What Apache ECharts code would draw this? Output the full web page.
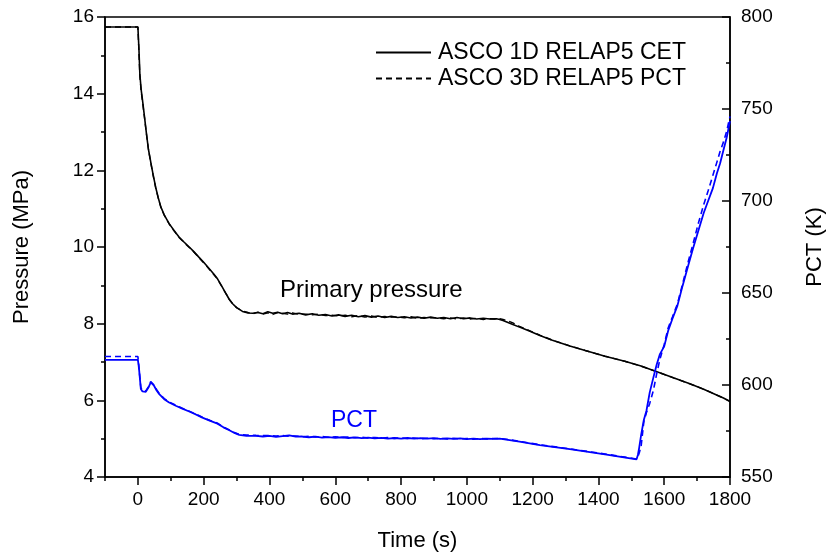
<!DOCTYPE html>
<html><head><meta charset="utf-8">
<script src="https://cdn.jsdelivr.net/npm/echarts@6/dist/echarts.min.js"></script>
<style>html,body{margin:0;padding:0;background:#fff}#c{width:827px;height:557px}</style>
</head><body><div id="c"></div>
<script>
// ---- Data ----
const legendNames = ['ASCO 1D RELAP5 CET', 'ASCO 3D RELAP5 PCT'];
const annotationTexts = ['Primary pressure', 'PCT'];

// Time (s) for pressure curves
const timeP = [
  -100,0,3,6,10,14,20,26,32,39,
  46,54,62,70,80,95,110,125,140,156,
  170,186,200,217,230,242,255,268,278,288,
  300,318,335,350,365,380,395,410,425,440,
  455,470,490,510,530,550,570,590,610,630,
  650,670,690,710,730,750,770,790,810,830,
  850,870,890,910,930,950,970,990,1010,1030,
  1050,1070,1090,1100,1110,1125,1140,1160,1190,1222,
  1260,1313,1360,1420,1480,1527,1580,1630,1678,1720,
  1749,1780,1800
];
// Primary pressure (MPa), 1D (solid)
const pressure1D = [
  15.74,15.74,15.2,14.5,14.1,13.83,13.4,12.96,12.55,12.22,
  11.9,11.56,11.28,11.04,10.84,10.61,10.43,10.26,10.13,10.0,
  9.88,9.73,9.6,9.43,9.3,9.17,8.98,8.78,8.63,8.52,
  8.42,8.32,8.28,8.27,8.29,8.26,8.31,8.27,8.30,8.26,
  8.29,8.25,8.27,8.23,8.26,8.22,8.24,8.20,8.23,8.19,
  8.22,8.18,8.21,8.17,8.20,8.16,8.19,8.16,8.18,8.15,
  8.17,8.14,8.17,8.14,8.16,8.13,8.16,8.13,8.15,8.12,
  8.14,8.12,8.13,8.11,8.08,8.03,7.98,7.91,7.81,7.69,
  7.57,7.42,7.30,7.15,7.02,6.90,6.74,6.58,6.43,6.29,
  6.18,6.06,5.97
];
// Primary pressure (MPa), 3D (dashed)
const pressure3D = [
  15.74,15.74,15.1,14.45,14.05,13.8,13.38,12.95,12.55,12.2,
  11.88,11.55,11.27,11.03,10.83,10.6,10.42,10.25,10.12,9.99,
  9.87,9.72,9.59,9.42,9.29,9.16,8.97,8.78,8.63,8.52,
  8.42,8.33,8.29,8.26,8.30,8.25,8.28,8.24,8.29,8.27,
  8.25,8.28,8.24,8.25,8.23,8.25,8.21,8.22,8.20,8.22,
  8.18,8.21,8.17,8.20,8.16,8.19,8.17,8.18,8.15,8.18,
  8.14,8.16,8.15,8.15,8.13,8.15,8.12,8.15,8.12,8.14,
  8.11,8.13,8.12,8.13,8.11,8.07,8.02,7.93,7.82,7.70,
  7.57,7.42,7.30,7.15,7.02,6.90,6.74,6.58,6.43,6.29,
  6.18,6.06,5.97
];

// Time (s) for PCT curves
const timeT = [
  -100,0,2,4,9,14,24,32,39,44,
  49,57,65,80,95,115,135,156,176,196,
  220,242,260,278,295,308,330,359,380,400,
  420,440,460,480,500,520,540,560,580,600,
  620,640,660,680,700,720,740,760,780,800,
  820,840,860,880,900,920,940,960,980,1000,
  1020,1040,1060,1080,1100,1120,1160,1222,1313,1420,
  1516,1520,1524,1530,1538,1546,1556,1567,1577,1587,
  1600,1612,1625,1640,1656,1673,1688,1704,1720,1734,
  1748,1760,1770,1780,1790,1795,1800
];
// PCT (K), 1D (solid)
const pct1D = [
  613.7,613.7,611,607.7,597.8,596.5,596.3,598.6,601.4,601.0,
  599.6,597,595,592.3,590.5,588.7,587.2,585.6,584,582.3,
  580.5,579,577,575.4,573.8,572.9,572.4,572.3,572.0,572.3,
  571.8,572.2,572.6,571.9,572.0,571.6,571.9,571.4,571.7,571.3,
  571.6,571.2,571.5,571.1,571.4,571.0,571.3,570.9,571.2,570.9,
  571.2,570.8,571.1,570.8,571.1,570.7,571.0,570.7,571.0,570.6,
  570.9,570.6,570.9,570.7,570.8,570.3,569.2,567.3,565.1,562.3,
  559.6,562,566,573,581,586,596,604,611,616.8,
  621,629.5,636,643,654,665,674.5,684,693.5,700.3,
  707,714.9,720.5,727.6,734.5,739,743.5
];
// PCT (K), 3D (dashed)
const pct3D = [
  615.5,615.5,612,608,598.5,597,596.8,599,601.8,601.3,
  600,597.5,595.3,592.6,590.8,589,587.4,585.8,584.2,582.5,
  580.7,579.2,577.2,575.6,574,573.2,572.8,572.6,572.5,572.6,
  572.3,572.5,572.1,572.3,571.9,572.1,571.8,572.0,571.6,571.9,
  571.5,571.7,571.3,571.6,571.2,571.5,571.1,571.4,571.0,571.3,
  570.9,571.2,570.8,571.1,570.8,571.0,570.7,571.0,570.7,570.9,
  570.6,570.9,570.7,570.9,570.9,570.5,569.4,567.5,565.3,562.5,
  559.8,561,563,567,580,585,590,597,606,614,
  622,631,637,644,655,667,677,688,698,705.8,
  714,721,727,732,738,742,746
];

// ---- Chart ----
const FONT = '"Liberation Sans", Arial, sans-serif';
const zip = (xs, ys) => xs.map((x, i) => [x, ys[i]]);
const lineCol = { color: '#000', width: 1.5 };
const plain = v => String(v);

const chart = echarts.init(document.getElementById('c'), null, { renderer: 'canvas' });
chart.setOption({
  animation: false,
  textStyle: { fontFamily: FONT },
  grid: { left: 105, right: 97, top: 17, bottom: 80, show: true, borderColor: '#000', borderWidth: 1.5,
          containLabel: false, outerBoundsMode: 'none' },
  legend: {
    data: legendNames, orient: 'vertical', left: 375, top: 41, padding: 0,
    itemWidth: 55, itemHeight: 23, itemGap: 3,
    itemStyle: { color: 'rgba(0,0,0,0)', borderWidth: 0, opacity: 0 },
    textStyle: { fontSize: 23, color: '#000', fontFamily: FONT, padding: [0, 0, 0, 2] }
  },
  xAxis: [
    {
      type: 'value', min: -100, max: 1800, minInterval: 200, maxInterval: 200, position: 'bottom',
      axisLine: { onZero: false, lineStyle: lineCol }, axisTick: { length: 8, lineStyle: lineCol },
      axisLabel: { fontSize: 19, color: '#000', margin: 13, showMinLabel: false, fontFamily: FONT, formatter: plain },
      splitLine: { show: false },
      name: 'Time (s)', nameLocation: 'middle', nameGap: 53,
      nameTextStyle: { fontSize: 22, color: '#000', fontFamily: FONT }
    },
    {
      type: 'value', min: -100, max: 1800, interval: 100, position: 'bottom',
      axisLine: { show: false, onZero: false }, axisTick: { length: 4, lineStyle: lineCol },
      axisLabel: { show: false }, splitLine: { show: false }
    }
  ],
  yAxis: [
    {
      type: 'value', min: 4, max: 16, interval: 2, position: 'left',
      axisLine: { show: true, onZero: false, lineStyle: lineCol }, axisTick: { show: true, length: 8, lineStyle: lineCol },
      minorTick: { show: true, splitNumber: 2, length: 4, lineStyle: lineCol },
      axisLabel: { fontSize: 19, color: '#000', margin: 11, fontFamily: FONT, formatter: plain },
      splitLine: { show: false },
      name: 'Pressure (MPa)', nameLocation: 'middle', nameGap: 72, nameRotate: 90,
      nameTextStyle: { fontSize: 22, color: '#000', fontFamily: FONT }
    },
    {
      type: 'value', min: 550, max: 800, interval: 50, position: 'right',
      axisLine: { show: true, onZero: false, lineStyle: lineCol }, axisTick: { show: true, inside: true, length: 8, lineStyle: lineCol },
      minorTick: { show: true, splitNumber: 2, length: 4, lineStyle: lineCol },
      axisLabel: { fontSize: 19, color: '#000', margin: 11, fontFamily: FONT, formatter: plain },
      splitLine: { show: false },
      name: 'PCT (K)', nameLocation: 'middle', nameGap: 74, nameRotate: 90,
      nameTextStyle: { fontSize: 22, color: '#000', fontFamily: FONT }
    }
  ],
  series: [
    { name: legendNames[0], type: 'line', xAxisIndex: 0, yAxisIndex: 0, data: zip(timeP, pressure1D),
      symbol: 'none', lineStyle: { color: '#000', width: 1.6 }, itemStyle: { color: '#000' }, z: 3 },
    { name: legendNames[1], type: 'line', xAxisIndex: 0, yAxisIndex: 0, data: zip(timeP, pressure3D),
      symbol: 'none', lineStyle: { color: '#000', width: 1.4, type: [6, 4] }, itemStyle: { color: '#000' }, z: 2 },
    { name: 'PCT 1D', type: 'line', xAxisIndex: 0, yAxisIndex: 1, data: zip(timeT, pct1D),
      symbol: 'none', lineStyle: { color: '#0000ff', width: 1.8 }, itemStyle: { color: '#0000ff' }, z: 5 },
    { name: 'PCT 3D', type: 'line', xAxisIndex: 0, yAxisIndex: 1, data: zip(timeT, pct3D),
      symbol: 'none', lineStyle: { color: '#0000ff', width: 1.6, type: [6, 4] }, itemStyle: { color: '#0000ff' }, z: 4 }
  ],
  graphic: [
    { type: 'text', left: 280, top: 278, style: { text: annotationTexts[0], fontSize: 24, fill: '#000', fontFamily: FONT } },
    { type: 'text', left: 331, top: 409, style: { text: annotationTexts[1], fontSize: 23, fill: '#0000ff', fontFamily: FONT } }
  ]
});
</script>
</body></html>
